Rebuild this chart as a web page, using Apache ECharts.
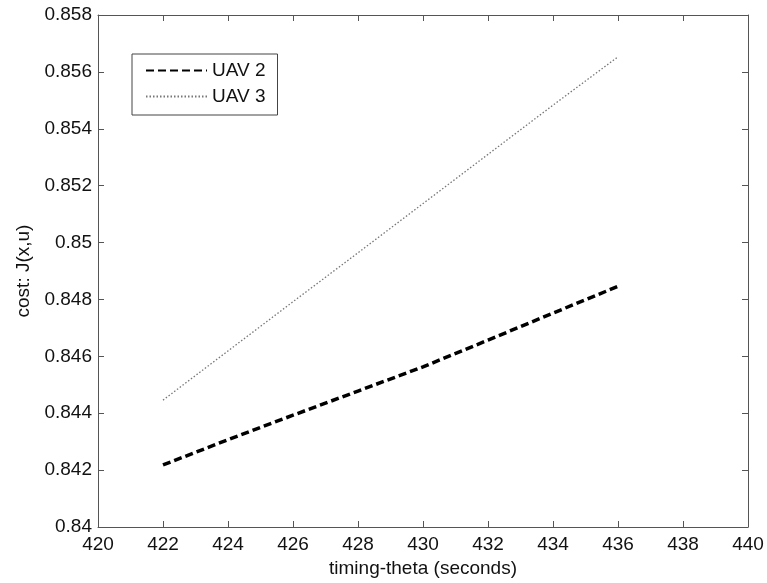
<!DOCTYPE html>
<html>
<head>
<meta charset="utf-8">
<script src="https://cdn.jsdelivr.net/npm/echarts@6/dist/echarts.min.js"></script>
<style>
  html, body { margin: 0; padding: 0; background: #fff; }
  #chart { width: 767px; height: 583px; }
</style>
</head>
<body>
<div id="chart"></div>
<script>
// Timing parameter (seconds)
const theta = [422, 424, 426, 428, 430, 432, 434, 436];
// Cost J(x,u) for each UAV
const uav2 = [0.84218, 0.84307, 0.84393, 0.84478, 0.84563, 0.84657, 0.84752, 0.84846];
const uav3 = [0.84446, 0.84619, 0.84792, 0.84964, 0.85137, 0.85310, 0.85483, 0.85653];
const seriesNames = ['UAV 2', 'UAV 3'];

const font = 'Liberation Sans, Arial, sans-serif';
const axisColor = '#555';
const fs = 19;

const chart = echarts.init(document.getElementById('chart'));

const pairs = arr => theta.map((t, i) => [t, arr[i]]);
const fmtY = v => String(+v.toFixed(3));

// Boxed axes: labelled bottom/left, bare top/right, ticks pointing inward
const boxAxisX = (pos, showLabel) => ({
  type: 'value', position: pos, min: 420, max: 440, interval: 2,
  name: showLabel ? 'timing-theta (seconds)' : '',
  nameLocation: 'middle', nameGap: 32,
  nameTextStyle: { color: '#111', fontSize: fs, fontFamily: font },
  axisLine: { show: true, onZero: false, lineStyle: { color: axisColor, width: 1 } },
  axisTick: { show: true, inside: true, length: 6, lineStyle: { color: axisColor } },
  axisLabel: { show: showLabel, color: '#111', fontSize: fs, fontFamily: font, margin: 8 },
  splitLine: { show: false }
});
const boxAxisY = (pos, showLabel) => ({
  type: 'value', position: pos, min: 0.84, max: 0.858, interval: 0.002,
  name: showLabel ? 'cost: J(x,u)' : '',
  nameLocation: 'middle', nameGap: 65, nameRotate: 90,
  nameTextStyle: { color: '#111', fontSize: fs, fontFamily: font },
  axisLine: { show: true, onZero: false, lineStyle: { color: axisColor, width: 1 } },
  axisTick: { show: true, inside: true, length: 6, lineStyle: { color: axisColor } },
  axisLabel: { show: showLabel, color: '#111', fontSize: fs, fontFamily: font, margin: 6, formatter: fmtY },
  splitLine: { show: false }
});

chart.setOption({
  backgroundColor: '#fff',
  animation: false,
  grid: { left: 98, right: 19, top: 15, bottom: 55, containLabel: false },
  xAxis: [boxAxisX('bottom', true), boxAxisX('top', false)],
  yAxis: [boxAxisY('left', true), boxAxisY('right', false)],
  legend: {
    orient: 'vertical', left: 132, top: 54,
    data: seriesNames,
    itemWidth: 61, itemHeight: 14, itemGap: 7,
    padding: [7, 12, 9, 13],
    borderColor: '#444', borderWidth: 1,
    backgroundColor: '#fff',
    itemStyle: { color: 'transparent', borderWidth: 0, opacity: 0 },
    textStyle: { color: '#111', fontSize: fs, fontFamily: font }
  },
  series: [
    {
      name: seriesNames[0], type: 'line', data: pairs(uav2),
      xAxisIndex: 0, yAxisIndex: 0,
      showSymbol: false, symbol: 'none',
      lineStyle: { color: '#000', width: 3.5, type: [8, 4] },
      itemStyle: { color: '#000' }
    },
    {
      name: seriesNames[1], type: 'line', data: pairs(uav3),
      xAxisIndex: 0, yAxisIndex: 0,
      showSymbol: false, symbol: 'none',
      lineStyle: { color: '#777', width: 1.3, type: [1.5, 2] },
      itemStyle: { color: '#777' }
    }
  ]
});
</script>
</body>
</html>
